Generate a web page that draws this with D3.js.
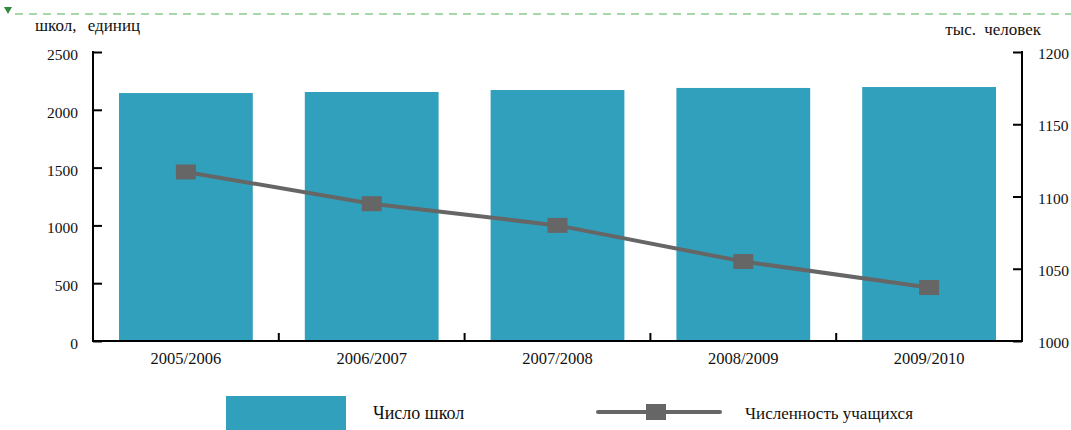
<!DOCTYPE html>
<html><head><meta charset="utf-8">
<script src="https://cdn.jsdelivr.net/npm/d3@7"></script>
<style>body{margin:0;background:#fff}svg{display:block}text{font-family:"Liberation Serif","Times New Roman",serif;fill:#111}</style>
</head><body><svg id="c" width="1071" height="430"></svg>
<script>
const categories = ["2005/2006","2006/2007","2007/2008","2008/2009","2009/2010"];
const schools = [2145, 2154, 2171, 2189, 2197];
const students = [1117, 1095, 1080, 1055, 1037];
const leftTicks = [0, 500, 1000, 1500, 2000, 2500];
const rightTicks = [1000, 1050, 1100, 1150, 1200];
const leftTitle = "школ, единиц";
const rightTitle = "тыс. человек";
const seriesNames = ["Число школ", "Численность учащихся"];

const svg = d3.select("#c");
const L = 93, R = 1022, T = 52, B = 341;
const x = d3.scaleBand().domain(categories).range([L, R]).paddingInner(0.28).paddingOuter(0.14);
const yL = d3.scaleLinear().domain([0, 2500]).range([B, T]);
const yR = d3.scaleLinear().domain([1000, 1200]).range([B, T]);
const barColor = "#30a0bd", lineColor = "#666666";

// green dashed top line
svg.append("line").attr("x1", 15).attr("x2", 1071).attr("y1", 14).attr("y2", 14)
  .attr("stroke", "#4caf50").attr("stroke-width", 1.2).attr("stroke-dasharray", "8,6");
svg.append("path").attr("d", "M4,7 L12,7 L8,14 Z").attr("fill", "#2e8b3a");

// bars
svg.append("g").selectAll("rect").data(categories).join("rect")
  .attr("x", d => x(d)).attr("width", x.bandwidth())
  .attr("y", (d, i) => yL(schools[i])).attr("height", (d, i) => B - yL(schools[i]))
  .attr("fill", barColor);

// axes
const gl = svg.append("g").attr("transform", `translate(${L},0)`)
  .call(d3.axisRight(yL).tickValues(leftTicks).tickSize(9).tickFormat(""));
gl.select(".domain").remove();
gl.selectAll(".tick line").attr("stroke", "#000").attr("stroke-width", 2);
svg.append("g").selectAll("text").data(leftTicks).join("text")
  .attr("x", 78).attr("y", d => yL(d) + 8).attr("text-anchor", "end")
  .attr("font-size", 15.5).text(d => d);

const gr = svg.append("g").attr("transform", `translate(${R},0)`)
  .call(d3.axisLeft(yR).tickValues(rightTicks).tickSize(9).tickFormat(""));
gr.select(".domain").remove();
gr.selectAll(".tick line").attr("stroke", "#000").attr("stroke-width", 2);
svg.append("g").selectAll("text").data(rightTicks).join("text")
  .attr("x", 1038).attr("y", d => yR(d) + 7).attr("text-anchor", "start")
  .attr("font-size", 15.5).text(d => d);

// axis lines
svg.append("line").attr("x1", L).attr("x2", L).attr("y1", T - 1).attr("y2", B + 1).attr("stroke", "#000").attr("stroke-width", 2);
svg.append("line").attr("x1", R).attr("x2", R).attr("y1", T - 1).attr("y2", B + 1).attr("stroke", "#000").attr("stroke-width", 2);
svg.append("line").attr("x1", L - 1).attr("x2", R + 1).attr("y1", B).attr("y2", B).attr("stroke", "#000").attr("stroke-width", 2);

// category boundary ticks
const bounds = categories.slice(1).map(c => x(c) - x.step() * x.paddingInner() / 2);
svg.append("g").selectAll("line").data(bounds).join("line")
  .attr("x1", d => d).attr("x2", d => d).attr("y1", B).attr("y2", B - 8)
  .attr("stroke", "#000").attr("stroke-width", 2);

// x labels
svg.append("g").selectAll("text").data(categories).join("text")
  .attr("x", d => x(d) + x.bandwidth() / 2).attr("y", 364).attr("text-anchor", "middle")
  .attr("font-size", 16.5).text(d => d);

// titles
svg.append("text").attr("x", 35).attr("y", 31).attr("font-size", 17).attr("word-spacing", 7).text(leftTitle);
svg.append("text").attr("x", 1041).attr("y", 35).attr("text-anchor", "end").attr("font-size", 17).attr("word-spacing", 4).text(rightTitle);

// line series
const line = d3.line().x((d, i) => x(categories[i]) + x.bandwidth() / 2).y(d => yR(d));
svg.append("path").datum(students).attr("d", line).attr("fill", "none")
  .attr("stroke", lineColor).attr("stroke-width", 4);
svg.append("g").selectAll("rect").data(students).join("rect")
  .attr("x", (d, i) => x(categories[i]) + x.bandwidth() / 2 - 10).attr("y", d => yR(d) - 7.5)
  .attr("width", 20).attr("height", 15).attr("fill", lineColor);

// legend
svg.append("rect").attr("x", 226).attr("y", 396).attr("width", 120).attr("height", 34).attr("fill", barColor);
svg.append("text").attr("x", 373).attr("y", 419).attr("font-size", 18).text(seriesNames[0]);
svg.append("line").attr("x1", 598).attr("x2", 720).attr("y1", 412).attr("y2", 412)
  .attr("stroke", lineColor).attr("stroke-width", 4).attr("stroke-linecap", "round");
svg.append("rect").attr("x", 646).attr("y", 404).attr("width", 20).attr("height", 16).attr("fill", lineColor);
svg.append("text").attr("x", 745).attr("y", 419).attr("font-size", 17).text(seriesNames[1]);
</script></body></html>
